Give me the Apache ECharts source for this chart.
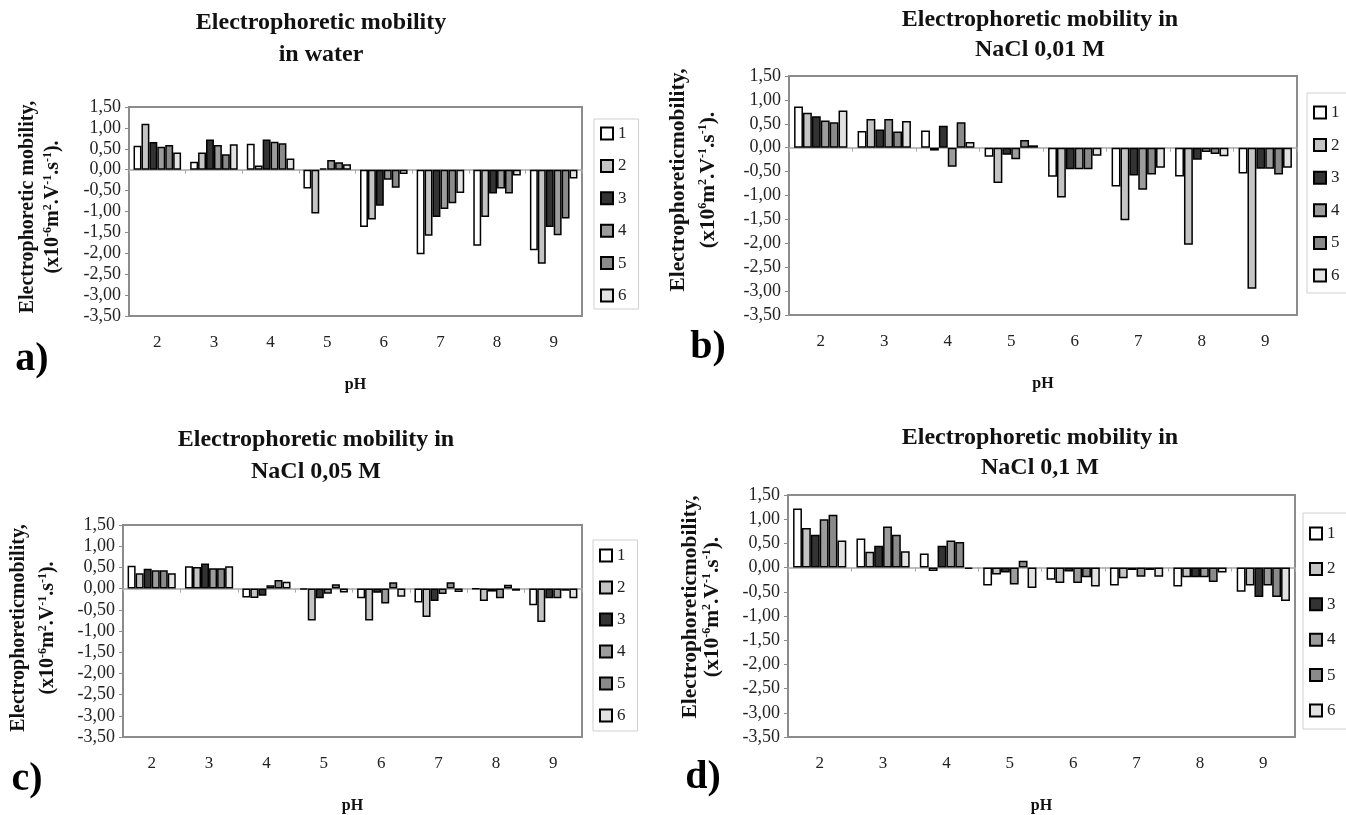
<!DOCTYPE html>
<html><head><meta charset="utf-8">
<script src="https://cdn.jsdelivr.net/npm/echarts@6/dist/echarts.min.js"></script>
<style>html,body{margin:0;padding:0;background:#fff}#c{width:1346px;height:815px}</style>
</head><body><div id="c"></div>
<script>
// ---------- DATA ----------
const phCats = ['2','3','4','5','6','7','8','9'];
const seriesNames = ['1','2','3','4','5','6'];
const yTickLabels = ['-3,50','-3,00','-2,50','-2,00','-1,50','-1,00','-0,50','0,00','0,50','1,00','1,50'];

// a) water
const water1 = [0.57, 0.19, 0.62, -0.45, -1.37, -2.02, -1.82, -1.93];
const water2 = [1.10, 0.41, 0.10, -1.05, -1.19, -1.58, -1.13, -2.25];
const water3 = [0.66, 0.72, 0.72, 0.03, -0.86, -1.13, -0.57, -1.37];
const water4 = [0.55, 0.59, 0.67, 0.23, -0.24, -0.94, -0.45, -1.57];
const water5 = [0.59, 0.37, 0.63, 0.18, -0.43, -0.80, -0.57, -1.17];
const water6 = [0.41, 0.61, 0.27, 0.13, -0.10, -0.56, -0.14, -0.21];
// b) NaCl 0,01 M
const nacl001_1 = [0.86, 0.35, 0.36, -0.19, -0.61, -0.81, -0.60, -0.54];
const nacl001_2 = [0.73, 0.60, -0.06, -0.74, -1.04, -1.52, -2.03, -2.95];
const nacl001_3 = [0.66, 0.38, 0.46, -0.15, -0.45, -0.58, -0.25, -0.44];
const nacl001_4 = [0.57, 0.60, -0.40, -0.24, -0.45, -0.88, -0.09, -0.44];
const nacl001_5 = [0.53, 0.34, 0.53, 0.16, -0.45, -0.56, -0.13, -0.56];
const nacl001_6 = [0.78, 0.56, 0.12, 0.05, -0.17, -0.42, -0.18, -0.42];
// c) NaCl 0,05 M
const nacl005_1 = [0.54, 0.53, -0.21, -0.02, -0.23, -0.33, -0.01, -0.39];
const nacl005_2 = [0.36, 0.51, -0.22, -0.75, -0.75, -0.67, -0.29, -0.79];
const nacl005_3 = [0.47, 0.59, -0.17, -0.23, -0.10, -0.29, -0.07, -0.23];
const nacl005_4 = [0.43, 0.48, 0.08, -0.12, -0.35, -0.13, -0.23, -0.23];
const nacl005_5 = [0.43, 0.48, 0.20, 0.10, 0.15, 0.15, 0.09, -0.05];
const nacl005_6 = [0.36, 0.53, 0.16, -0.09, -0.19, -0.08, -0.05, -0.23];
// d) NaCl 0,1 M
const nacl01_1 = [1.22, 0.60, 0.29, -0.37, -0.25, -0.37, -0.39, -0.50];
const nacl01_2 = [0.82, 0.33, -0.07, -0.14, -0.32, -0.22, -0.20, -0.37];
const nacl01_3 = [0.68, 0.45, 0.45, -0.10, -0.08, -0.05, -0.20, -0.61];
const nacl01_4 = [1.00, 0.85, 0.56, -0.35, -0.32, -0.19, -0.20, -0.37];
const nacl01_5 = [1.09, 0.68, 0.53, 0.14, -0.20, -0.05, -0.30, -0.61];
const nacl01_6 = [0.56, 0.34, -0.03, -0.42, -0.39, -0.19, -0.10, -0.69];

const panelData = [
  [water1, water2, water3, water4, water5, water6],
  [nacl001_1, nacl001_2, nacl001_3, nacl001_4, nacl001_5, nacl001_6],
  [nacl005_1, nacl005_2, nacl005_3, nacl005_4, nacl005_5, nacl005_6],
  [nacl01_1, nacl01_2, nacl01_3, nacl01_4, nacl01_5, nacl01_6]
];
const titles1 = ['Electrophoretic mobility', 'Electrophoretic mobility in', 'Electrophoretic mobility in', 'Electrophoretic mobility in'];
const titles2 = ['in water', 'NaCl 0,01 M', 'NaCl 0,05 M', 'NaCl 0,1 M'];
const yName1 = ['Electrophoretic mobility,', 'Electrophoreticmobility,', 'Electrophoreticmobility,', 'Electrophoreticmobility,'];
const yName2 = ['(x10{s|-6}m{s|2}.V{s|-1}.s{s|-1}).', '(x10{s|6}m{s|2}.V{s|-1}.s{s|-1}).', '(x10{s|-6}m{s|2}.V{s|-1}.s{s|-1}).', '(x10{s|-6}m{s|2}.V{s|-1}.s{s|-1}).'];
const panelLetters = ['a)', 'b)', 'c)', 'd)'];

// ---------- LAYOUT / STYLE ----------
const FONT = "'Liberation Serif','Times New Roman',serif";
const fills = ['#ffffff', '#c4c4c4', '#333333', '#9c9c9c', '#8a8a8a', '#e2e2e2'];
const grids = [
  {left: 129, top: 107, width: 453, height: 209},
  {left: 789, top: 76,  width: 508, height: 239},
  {left: 123, top: 525, width: 459, height: 215},
  {left: 788, top: 495, width: 507, height: 246}
];
const legends = [
  {left: 594, top: 119, gap: 15.4, pad: [6, 12, 5, 6]},
  {left: 1307, top: 93, gap: 15.6, pad: [11, 12, 9, 6]},
  {left: 593, top: 540, gap: 15, pad: [7, 12, 7, 6]},
  {left: 1303, top: 513, gap: 18.4, pad: [12, 12, 10, 6]}
];
const titlePos = [
  {x: 321, y1: 23, y2: 55},
  {x: 1040, y1: 20, y2: 50},
  {x: 316, y1: 440, y2: 472},
  {x: 1040, y1: 438, y2: 468}
];
const yNamePos = [
  {x1: 28, x2: 53, y: 207, fs: 20},
  {x1: 678, x2: 708, y: 180, fs: 21.5},
  {x1: 19, x2: 48, y: 628, fs: 20},
  {x1: 690, x2: 712, y: 607, fs: 21.5}
];
const letterPos = [[32, 360], [708, 348], [27, 780], [703, 778]];

const yMin = -3.5, yMax = 1.5, yStep = 0.5;

const option = {
  backgroundColor: '#fff',
  animation: false,
  grid: [], xAxis: [], yAxis: [], series: [], legend: [], graphic: []
};

grids.forEach((g, p) => {
  option.grid.push(Object.assign({show: true, borderColor: '#8c8c8c', borderWidth: 2, backgroundColor: '#fff'}, g));
  // label axis at bottom
  option.xAxis.push({
    type: 'category', gridIndex: p, data: phCats, position: 'bottom',
    axisLine: {show: false, onZero: false}, axisTick: {show: false},
    axisLabel: {margin: 18, fontSize: 17, fontFamily: FONT, color: '#222'},
    name: 'pH', nameLocation: 'middle', nameGap: 61,
    nameTextStyle: {fontSize: 16, fontWeight: 'bold', fontFamily: FONT, color: '#111'}
  });
  // zero line axis
  option.xAxis.push({
    type: 'category', gridIndex: p, data: phCats, position: 'bottom',
    axisLine: {show: true, onZero: true, lineStyle: {color: '#a8a8a8', width: 1.5}},
    axisTick: {show: true, length: 4, lineStyle: {color: '#a8a8a8'}},
    axisLabel: {show: false}
  });
  option.yAxis.push({
    type: 'value', gridIndex: p, min: yMin, max: yMax, interval: yStep,
    axisLine: {show: false}, axisTick: {show: true, length: 4, lineStyle: {color: '#8c8c8c'}},
    splitLine: {show: false},
    axisLabel: {margin: 8, fontSize: 18, fontFamily: FONT, color: '#222',
      formatter: v => yTickLabels[Math.round((v - yMin) / yStep)]}
  });
  panelData[p].forEach((arr, s) => {
    option.series.push({
      type: 'bar', name: seriesNames[s], xAxisIndex: p * 2, yAxisIndex: p,
      data: arr, barGap: '0%', barCategoryGap: '16%',
      itemStyle: {color: fills[s], borderColor: '#000', borderWidth: 1.5}
    });
  });
  const L = legends[p];
  option.legend.push({
    orient: 'vertical', left: L.left, top: L.top, data: seriesNames,
    itemWidth: 12, itemHeight: 12, itemGap: L.gap, padding: L.pad,
    borderColor: '#cfcfcf', borderWidth: 1, selectedMode: false, icon: 'rect',
    textStyle: {fontSize: 17, lineHeight: 16, fontFamily: FONT, color: '#222'}
  });
  const T = titlePos[p];
  [[titles1[p], T.y1], [titles2[p], T.y2]].forEach(([t, y]) => {
    option.graphic.push({type: 'text', x: T.x, y: y, silent: true,
      style: {text: t, font: 'bold 24px ' + FONT, fill: '#111', align: 'center', verticalAlign: 'middle', textAlign: 'center', textVerticalAlign: 'middle'}});
  });
  const Y = yNamePos[p];
  option.graphic.push({type: 'text', x: Y.x1, y: Y.y, rotation: Math.PI / 2, silent: true,
    style: {text: yName1[p], font: 'bold ' + Y.fs + 'px ' + FONT, fill: '#111', align: 'center', verticalAlign: 'middle', textAlign: 'center', textVerticalAlign: 'middle'}});
  option.graphic.push({type: 'text', x: Y.x2, y: Y.y, rotation: Math.PI / 2, silent: true,
    style: {text: yName2[p], fontSize: Y.fs, fontWeight: 'bold', fontFamily: FONT, fill: '#111', lineHeight: 22,
      align: 'center', verticalAlign: 'middle', textAlign: 'center', textVerticalAlign: 'middle',
      rich: {s: {fontSize: 12, fontWeight: 'bold', fontFamily: FONT, fill: '#111', lineHeight: 13, verticalAlign: 'top'}}}});
  option.graphic.push({type: 'text', x: letterPos[p][0], y: letterPos[p][1], silent: true,
    style: {text: panelLetters[p], font: 'bold 40px ' + FONT, fill: '#000', align: 'center', verticalAlign: 'middle', textAlign: 'center', textVerticalAlign: 'middle'}});
});

const chart = echarts.init(document.getElementById('c'), null, {renderer: 'canvas'});
chart.setOption(option);
</script>
</body></html>
